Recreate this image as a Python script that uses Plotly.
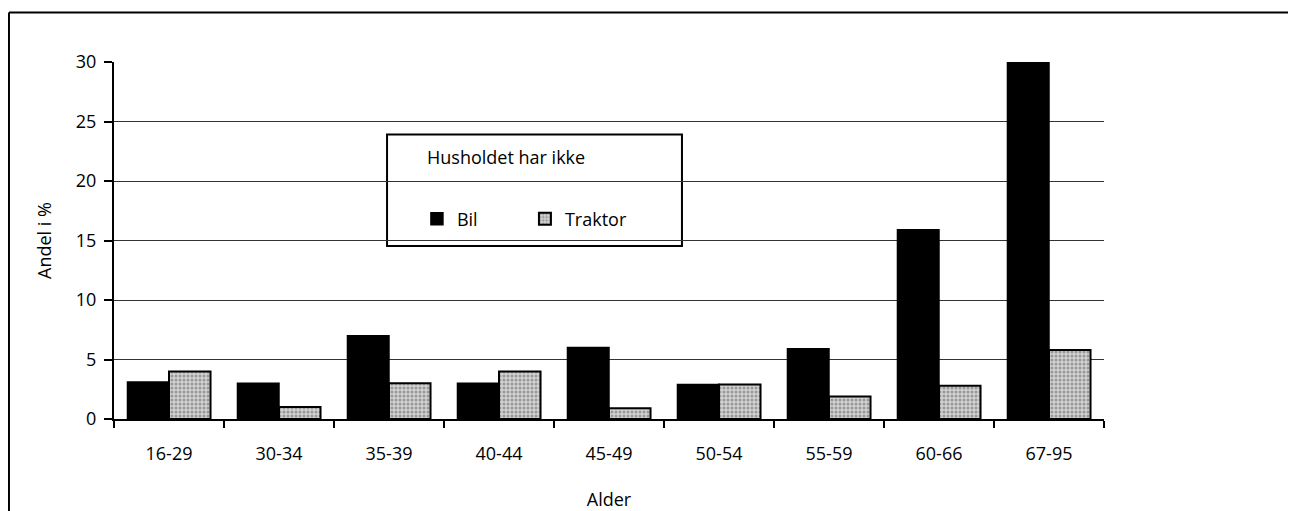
import plotly.graph_objects as go

# Data
age_groups = ["16-29", "30-34", "35-39", "40-44", "45-49", "50-54", "55-59", "60-66", "67-95"]
bil = [3.1, 3.0, 7.0, 3.0, 6.0, 2.9, 5.9, 15.9, 30.0]
traktor = [4.0, 1.0, 3.0, 4.0, 0.9, 2.9, 1.9, 2.8, 5.8]
y_ticks = [0, 5, 10, 15, 20, 25, 30]

FONT = "Open Sans"
FS = 18

fig = go.Figure()

fig.add_trace(go.Bar(
    x=age_groups, y=bil, name="Bil",
    marker=dict(color="black", line=dict(color="black", width=1.5)),
))
fig.add_trace(go.Bar(
    x=age_groups, y=traktor, name="Traktor",
    marker=dict(
        color="#cfcfcf",
        line=dict(color="black", width=2),
        pattern=dict(shape=".", fgcolor="#5e5e5e", bgcolor="#d2d2d2", size=4, solidity=0.45),
    ),
))

# Legend box and heading
fig.add_shape(type="rect", xref="paper", yref="paper",
              x0=0.2758, x1=0.5737, y0=0.4847, y1=0.7967,
              line=dict(color="black", width=2), fillcolor="white", layer="below")
fig.add_annotation(text="Husholdet har ikke", xref="paper", yref="paper",
                   x=0.3141, y=0.733, xanchor="left", yanchor="middle",
                   showarrow=False, font=dict(family=FONT, size=FS, color="black"))

# Page frame (scan edges)
fig.add_shape(type="line", xref="paper", yref="paper",
              x0=-0.1061, x1=-0.1061, y0=1.139, y1=-0.3,
              line=dict(color="black", width=2))
fig.add_shape(type="line", xref="paper", yref="paper",
              x0=-0.1061, x1=1.2, y0=1.139, y1=1.139,
              line=dict(color="black", width=2))

fig.update_layout(
    width=1296, height=511,
    margin=dict(l=106, r=200, t=54, b=98),
    paper_bgcolor="white", plot_bgcolor="white",
    barmode="group", bargap=0.245, bargroupgap=0,
    font=dict(family=FONT, size=FS, color="black"),
    showlegend=True,
    legend=dict(
        orientation="h", x=0.306, y=0.56, xanchor="left", yanchor="middle",
        bgcolor="rgba(0,0,0,0)", borderwidth=0,
        font=dict(family=FONT, size=FS, color="black"),
        entrywidth=63, entrywidthmode="pixels",
    ),
)

fig.update_xaxes(
    showline=True, linecolor="black", linewidth=2,
    ticks="outside", tickson="boundaries", ticklen=7, tickwidth=2, tickcolor="black",
    ticklabelstandoff=17,
    title=dict(text="Alder", standoff=30, font=dict(family=FONT, size=FS)),
    showgrid=False,
)
fig.update_yaxes(
    range=[0, 30], tickvals=y_ticks,
    showline=True, linecolor="black", linewidth=2,
    ticks="outside", ticklen=8, tickwidth=2, tickcolor="black",
    ticklabelstandoff=4,
    showgrid=True, gridcolor="#333", gridwidth=1,
    title=dict(text="Andel i %", standoff=20, font=dict(family=FONT, size=FS)),
    zeroline=False,
)

fig.write_html("out.html")
